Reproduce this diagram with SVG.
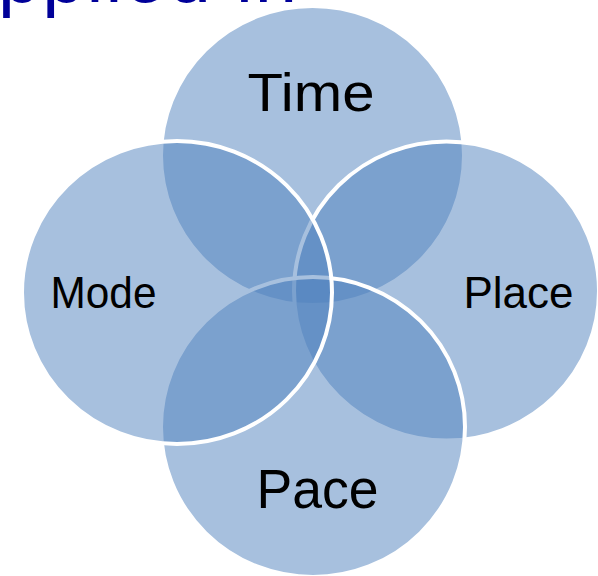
<svg xmlns="http://www.w3.org/2000/svg" width="598" height="576" viewBox="0 0 598 576">
  <style>
    .c { fill: #4F81BD; fill-opacity: 0.5; stroke: #FFFFFF; stroke-width: 4; }
    .lbl { font-family: "Liberation Sans", Arial, sans-serif; fill: #000000; text-anchor: middle; }
    .title { font-family: "Liberation Sans", Arial, sans-serif; fill: #000099; }
  </style>
  <rect width="598" height="576" fill="#FFFFFF"/>
  <text class="title" x="-2" y="1.5" font-size="76" letter-spacing="2">pplied in</text>
  <g id="node-time">
    <ellipse class="c" cx="312.5" cy="155.5" rx="151.5" ry="149.5"/>
    <text class="lbl" x="311" y="111" font-size="54" textLength="127" lengthAdjust="spacingAndGlyphs">Time</text>
  </g>
  <g id="node-place">
    <ellipse class="c" cx="446.5" cy="291" rx="152.5" ry="149.5"/>
    <text class="lbl" x="518.5" y="307.7" font-size="44.5" textLength="110" lengthAdjust="spacingAndGlyphs">Place</text>
  </g>
  <g id="node-pace">
    <ellipse class="c" cx="313" cy="427" rx="152" ry="150"/>
    <text class="lbl" x="317.5" y="508.3" font-size="56" textLength="122" lengthAdjust="spacingAndGlyphs">Pace</text>
  </g>
  <g id="node-mode">
    <ellipse class="c" cx="177" cy="292.5" rx="155" ry="151.5"/>
    <text class="lbl" x="103.5" y="307.7" font-size="43.5" textLength="106" lengthAdjust="spacingAndGlyphs">Mode</text>
  </g>
</svg>
